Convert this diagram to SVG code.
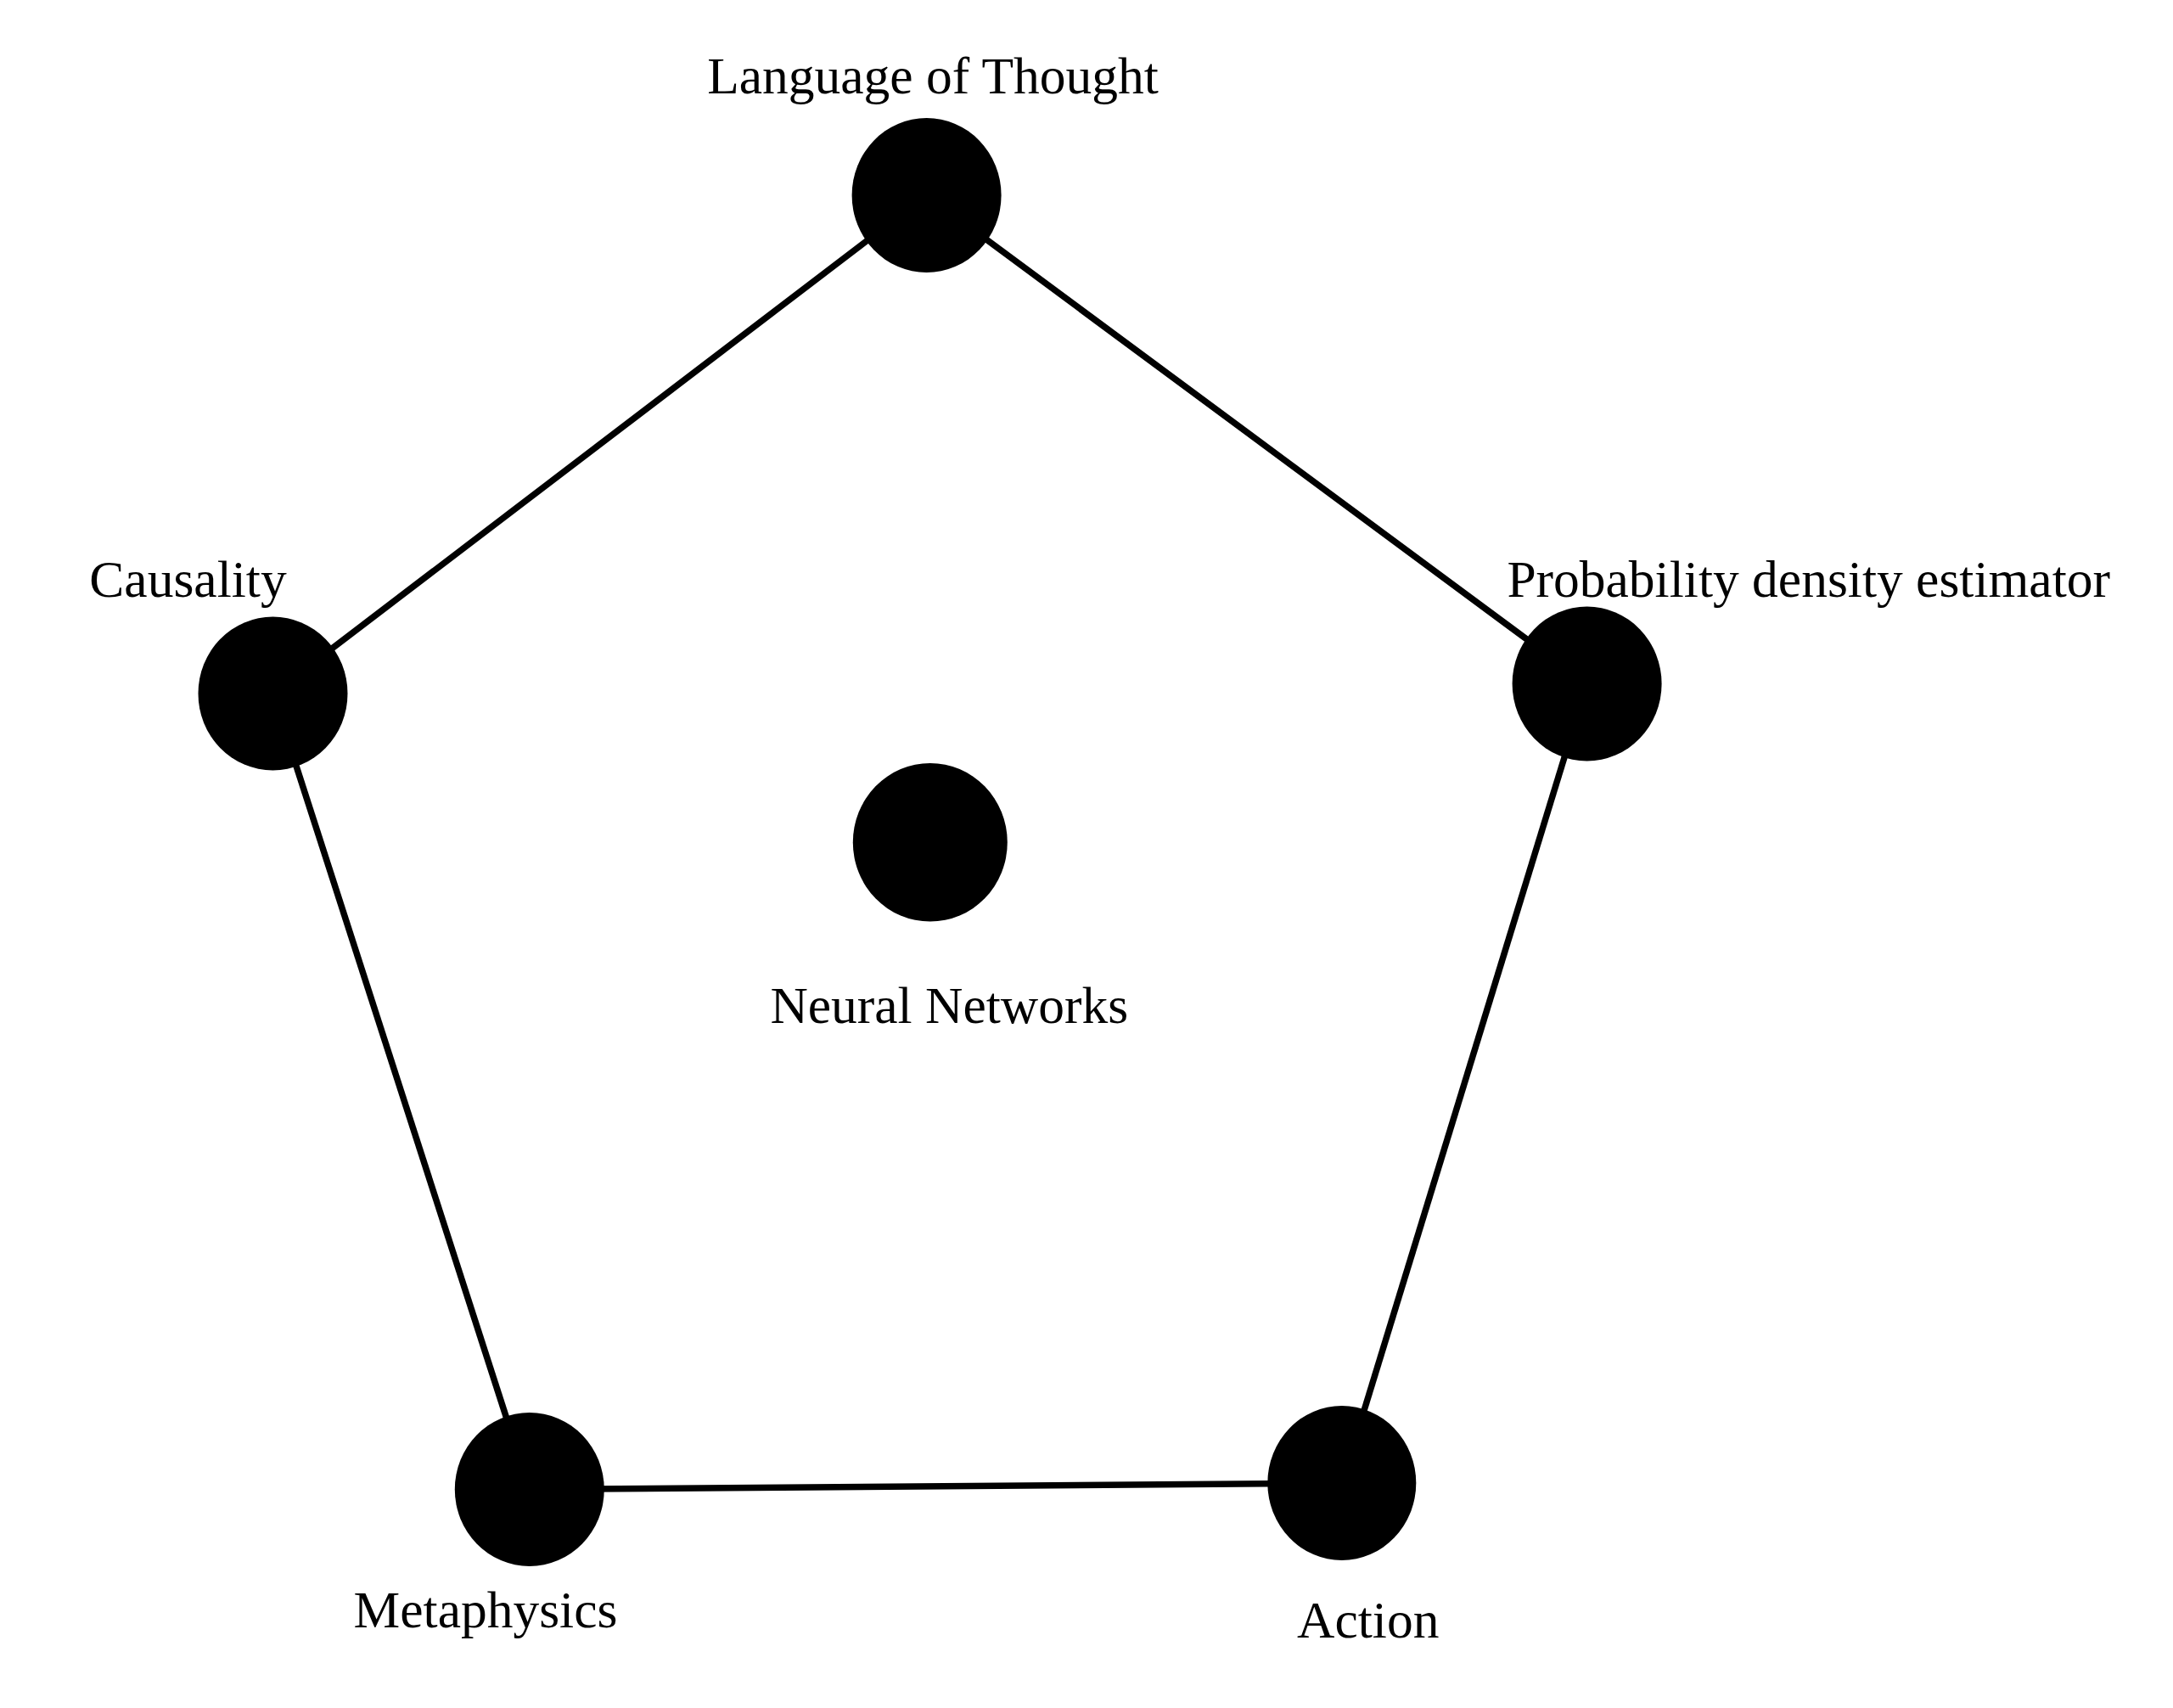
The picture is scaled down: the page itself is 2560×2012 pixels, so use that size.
<svg xmlns="http://www.w3.org/2000/svg" width="2560" height="2012" viewBox="0 0 2560 2012">
<style>
.edge{stroke:#000;stroke-width:7.5;fill:none}
.node{fill:#000}
.lbl{font-family:"Liberation Serif","Times New Roman",serif;font-size:61.5px;fill:#000;text-anchor:middle}
</style>
<rect width="2560" height="2012" fill="#fff"/>
<g id="connectors">
<line class="edge" x1="1091.6" y1="230" x2="321.5" y2="817"/>
<line class="edge" x1="1091.6" y1="230" x2="1869.6" y2="805.5"/>
<line class="edge" x1="1869.6" y1="805.5" x2="1580.8" y2="1747"/>
<line class="edge" x1="1580.8" y1="1747" x2="623.8" y2="1754.5"/>
<line class="edge" x1="623.8" y1="1754.5" x2="321.5" y2="817"/>
</g>
<g id="node-language">
<ellipse class="node" cx="1091.6" cy="230" rx="88" ry="91"/>
<text class="lbl" x="1099" y="110">Language of Thought</text>
</g>
<g id="node-causality">
<ellipse class="node" cx="321.5" cy="817" rx="88" ry="90.5"/>
<text class="lbl" x="221.5" y="703">Causality</text>
</g>
<g id="node-probability">
<ellipse class="node" cx="1869.6" cy="805.5" rx="88" ry="91"/>
<text class="lbl" x="2130.7" y="703">Probability density estimator</text>
</g>
<g id="node-neural">
<ellipse class="node" cx="1095.8" cy="992.3" rx="91" ry="93.3"/>
<text class="lbl" x="1118.3" y="1205">Neural Networks</text>
</g>
<g id="node-metaphysics">
<ellipse class="node" cx="623.8" cy="1754.5" rx="88" ry="90.5"/>
<text class="lbl" x="572" y="1916.7">Metaphysics</text>
</g>
<g id="node-action">
<ellipse class="node" cx="1580.8" cy="1747" rx="87.5" ry="91"/>
<text class="lbl" x="1611.7" y="1929.3">Action</text>
</g>
</svg>
